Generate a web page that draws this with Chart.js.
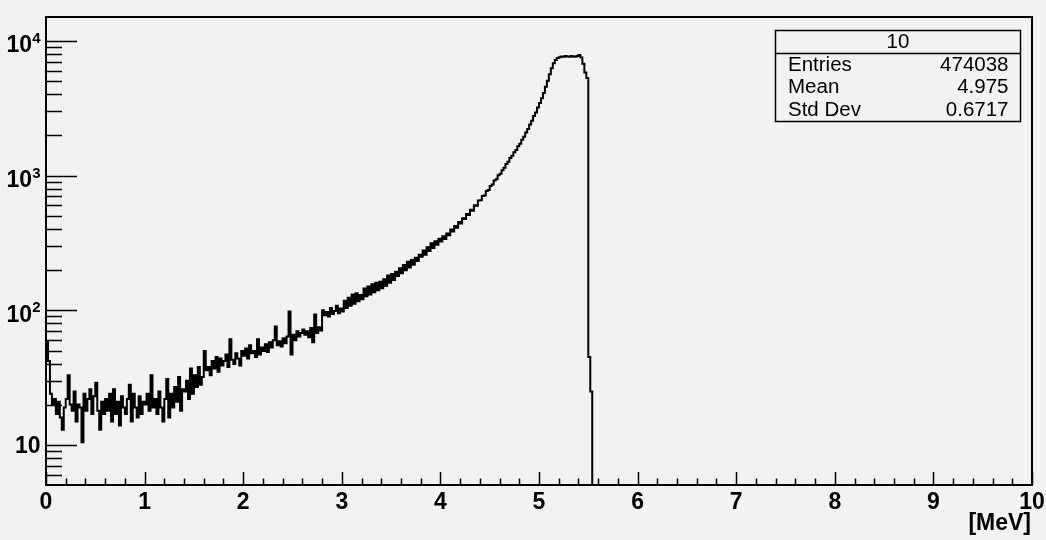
<!DOCTYPE html>
<html lang="en">
<head>
  <meta charset="UTF-8" />
  <title>Energy spectrum [MeV]</title>
  <script src="https://cdn.jsdelivr.net/npm/chart.js"></script>
  <style>
    html, body {
      margin: 0;
      padding: 0;
      background: #f2f2f2;
    }
    canvas { display: block; }
  </style>
</head>
<body>
<canvas id="spectrum" width="1046" height="540"></canvas>
<script>
  // histogram: 0.02 MeV bins, counts
  const binWidth = 0.02;
  const countsLow = [ // 0.00 - 0.98 MeV
    58, 42, 24, 20, 22, 17, 21, 16, 13, 19,
    22, 33, 20, 18, 25, 15, 20, 19, 10.5, 24,
    18, 22, 26, 17, 23, 29, 18, 13, 21, 17,
    22, 18, 24, 15, 26, 17, 21, 14, 23, 19,
    17, 22, 28, 15, 24, 19, 16, 23, 17, 21
  ];
  const countsMid = [ // 1.00 - 2.98 MeV
    20, 24, 18, 33, 19, 22, 17, 25, 19, 15,
    22, 31, 16, 24, 19, 27, 21, 32, 18, 26,
    25, 30, 22, 37, 24, 33, 27, 38, 28, 32,
    50, 36, 38, 33, 42, 37, 45, 35, 44, 39,
    42, 47, 38, 61, 43, 40, 48, 44, 39, 50,
    46, 52, 44, 55, 48, 50, 45, 61, 47, 53,
    50, 56, 49, 58, 53, 60, 76, 55, 59, 54,
    62, 57, 64, 98, 47, 66, 60, 70, 64, 68,
    72, 66, 70, 63, 74, 58, 93, 68, 75, 71,
    100, 92, 97, 90, 104, 94, 99, 108, 95, 103
  ];
  const countsHigh = [ // 3.00 - 4.98 MeV
    98, 118, 104, 124, 108, 131, 112, 134, 117, 130,
    121, 145, 127, 150, 131, 156, 136, 160, 141, 163,
    146, 170, 152, 181, 160, 186, 168, 193, 180, 205,
    188, 217, 198, 229, 208, 236, 218, 246, 232, 258,
    250, 278, 258, 294, 276, 314, 290, 325, 306, 340,
    324, 355, 338, 372, 360, 397, 385, 422, 410, 452,
    440, 482, 475, 518, 510, 558, 548, 603, 598, 652,
    655, 705, 712, 768, 780, 838, 858, 918, 940, 1005,
    1030, 1095, 1140, 1220, 1265, 1350, 1400, 1490, 1545, 1650,
    1720, 1840, 1940, 2090, 2210, 2390, 2550, 2760, 2940, 3190
  ];
  const countsPeak = [ // 5.00 - 5.52 MeV
    3450, 3750, 4100, 4550, 5050, 5650, 6250, 6800, 7200, 7450,
    7550, 7650, 7600, 7700, 7650, 7600, 7700, 7650, 7600, 7700,
    7850, 7500, 6750, 5800, 5300, 45, 25
  ];
  const xTicks = [0, 1, 2, 3, 4, 5, 6, 7, 8, 9, 10];
  const yTicks = [10, 100, 1000, 10000];
  const yTickLabels = [['10', ''], ['10', '2'], ['10', '3'], ['10', '4']];
  const xTitle = '[MeV]';
  const statsTitle = '10';
  const statsNames = ['Entries', 'Mean', 'Std Dev'];
  const statsValues = ['474038', '4.975', '0.6717'];

  const counts = countsLow.concat(countsMid, countsHigh, countsPeak);
  const points = counts.map((c, i) => ({ x: i * binWidth, y: c }));
  // close the last bin and drop to empty (below the axis, gets clipped)
  points.push({ x: counts.length * binWidth, y: 0.5 });

  const BOLD = 'bold 23px "Liberation Sans", Arial, sans-serif';

  const rootFrame = {
    id: 'rootFrame',
    beforeDraw(chart) {
      const ctx = chart.ctx;
      ctx.save();
      ctx.fillStyle = '#f2f2f2';
      ctx.fillRect(0, 0, chart.width, chart.height);
      ctx.restore();
    },
    afterDatasetsDraw(chart) {
      const { ctx, chartArea: a, scales: { x, y } } = chart;
      ctx.save();
      ctx.strokeStyle = '#000';
      ctx.fillStyle = '#000';

      // frame
      ctx.lineWidth = 2;
      ctx.strokeRect(a.left, a.top, a.right - a.left, a.bottom - a.top);

      // x ticks (major every 1, minor every 0.2)
      ctx.lineWidth = 1.5;
      ctx.beginPath();
      for (let k = 0; k <= 50; k++) {
        const px = Math.round(x.getPixelForValue(k * 0.2)) + 0.5;
        const len = k % 5 === 0 ? 13 : 6.5;
        ctx.moveTo(px, a.bottom);
        ctx.lineTo(px, a.bottom - len);
      }
      // y ticks (log: major at decades, minor 2..9)
      for (let dec = 1; dec <= 10000; dec *= 10) {
        for (let m = 1; m <= 9; m++) {
          const v = m * dec;
          if (v < y.min || v > y.max) continue;
          const py = Math.round(y.getPixelForValue(v)) + 0.5;
          const len = m === 1 ? 31 : 16;
          ctx.moveTo(a.left, py);
          ctx.lineTo(a.left + len, py);
        }
      }
      ctx.stroke();

      // x labels
      ctx.font = BOLD;
      ctx.textAlign = 'center';
      ctx.textBaseline = 'alphabetic';
      xTicks.forEach(t => {
        ctx.fillText(String(t), x.getPixelForValue(t), 509);
      });
      ctx.textAlign = 'right';
      ctx.fillText(xTitle, 1031, 530);

      // y labels, with superscript exponent
      yTicks.forEach((t, i) => {
        const py = y.getPixelForValue(t);
        const [base, exp] = yTickLabels[i];
        const right = 40.5;
        if (exp) {
          ctx.font = 'bold 15px "Liberation Sans", Arial, sans-serif';
          ctx.textAlign = 'right';
          ctx.fillText(exp, right, py + 2);
          const w = ctx.measureText(exp).width;
          ctx.font = BOLD;
          ctx.fillText(base, right - w, py + 11.5);
        } else {
          ctx.font = BOLD;
          ctx.textAlign = 'right';
          ctx.fillText(base, right, py + 7.5);
        }
      });

      // stats box
      const bx = 775.5, by = 30.5, bw = 245, bh = 91;
      ctx.fillStyle = '#f2f2f2';
      ctx.fillRect(bx, by, bw, bh);
      ctx.lineWidth = 1.5;
      ctx.strokeRect(bx, by, bw, bh);
      ctx.beginPath();
      ctx.moveTo(bx, 53.5);
      ctx.lineTo(bx + bw, 53.5);
      ctx.stroke();
      ctx.fillStyle = '#000';
      ctx.font = '20.5px "Liberation Sans", Arial, sans-serif';
      ctx.textAlign = 'center';
      ctx.fillText(statsTitle, bx + bw / 2, 47.5);
      statsNames.forEach((n, i) => {
        const base = 70.5 + i * 22.5;
        ctx.textAlign = 'left';
        ctx.fillText(n, 788, base);
        ctx.textAlign = 'right';
        ctx.fillText(statsValues[i], 1008.5, base);
      });
      ctx.restore();
    }
  };

  new Chart(document.getElementById('spectrum'), {
    type: 'line',
    data: {
      datasets: [{
        data: points,
        borderColor: '#000',
        borderWidth: 2,
        stepped: true,
        pointRadius: 0,
        fill: false
      }]
    },
    options: {
      responsive: false,
      animation: false,
      layout: { padding: { left: 46, right: 14, top: 17, bottom: 55 } },
      plugins: {
        legend: { display: false },
        tooltip: { enabled: false }
      },
      scales: {
        x: { type: 'linear', min: 0, max: 10, display: false },
        y: { type: 'logarithmic', min: 5.06, max: 15000, display: false }
      }
    },
    plugins: [rootFrame]
  });
</script>
</body>
</html>
